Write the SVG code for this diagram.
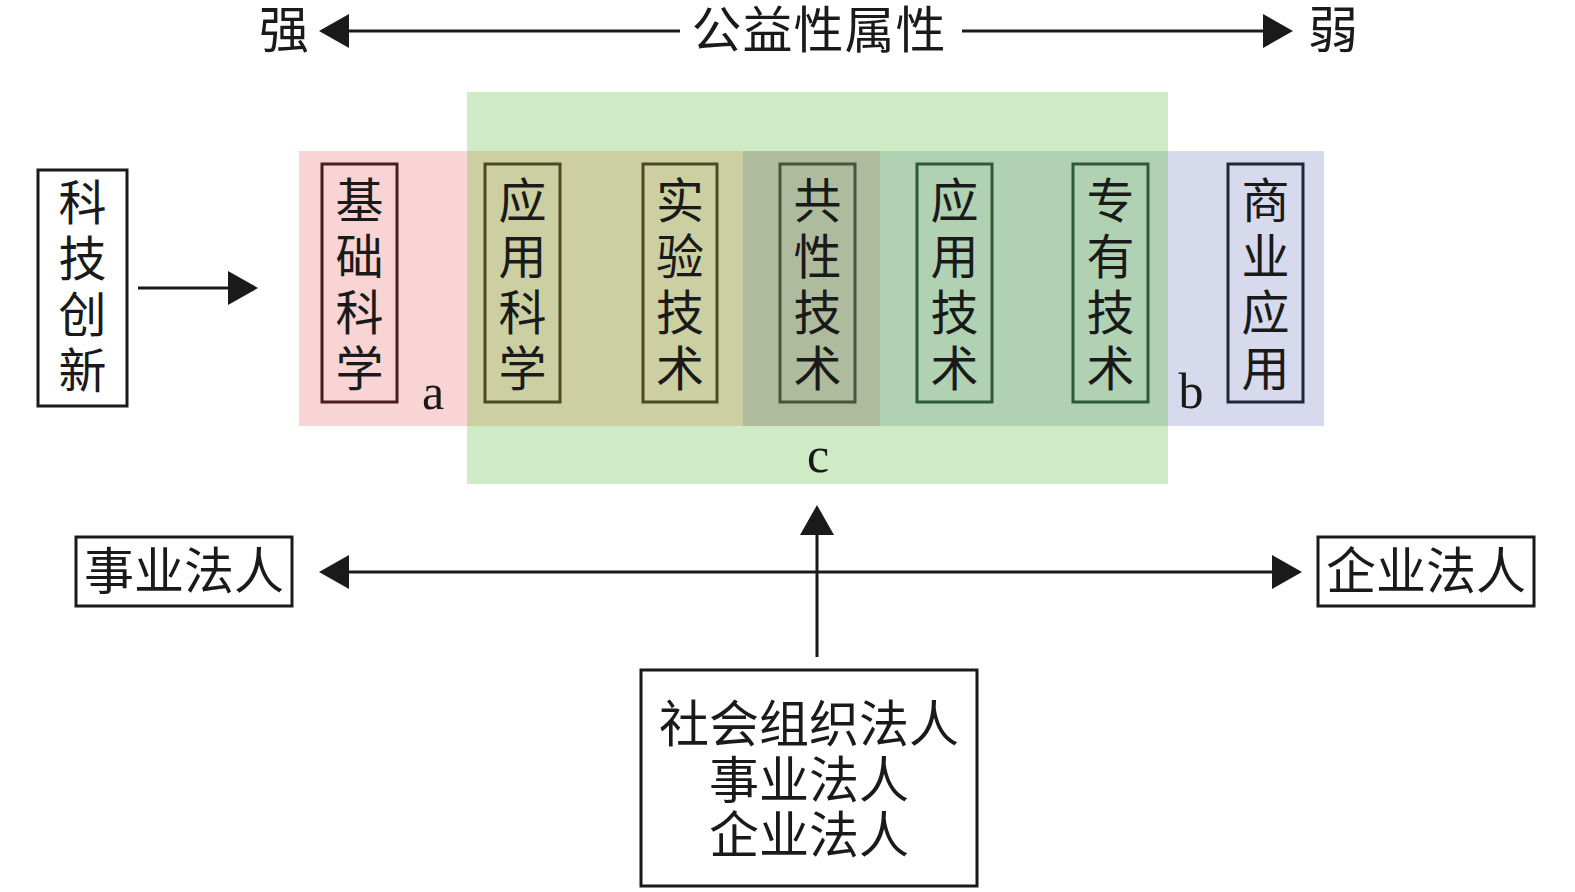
<svg xmlns="http://www.w3.org/2000/svg" width="1575" height="892" viewBox="0 0 1575 892">
<style>
.cjk{font-family:"Noto Sans CJK SC","Noto Sans CJK TC",sans-serif;font-size:48px;fill:#1a1a1a;text-anchor:middle}
.big{font-size:50px}
.lat{font-family:"Liberation Serif",serif;font-size:50px;fill:#1a1a1a;text-anchor:middle}
.box{fill:none;stroke-width:3}
.blk{fill:#fff;stroke:#1a1a1a;stroke-width:3}
.ln{stroke:#1a1a1a;stroke-width:3;fill:none}
</style>
<defs>
<marker id="ah" markerUnits="userSpaceOnUse" markerWidth="31" markerHeight="34" refX="0" refY="17" orient="auto-start-reverse">
<path d="M0,0 L30,17 L0,34 z" fill="#1a1a1a"/>
</marker>
</defs>
<g id="regions">
<rect x="467" y="92" width="701" height="392" fill="#ceebc5"/>
<rect x="299" y="151" width="168" height="275" fill="#f9d4d4"/>
<rect x="467" y="151" width="276" height="275" fill="#cccfa2"/>
<rect x="743" y="151" width="137" height="275" fill="#aebb9d"/>
<rect x="880" y="151" width="288" height="275" fill="#b0d2b3"/>
<rect x="1168" y="151" width="156" height="275" fill="#d6daec"/>
<text class="lat" x="433" y="409">a</text>
<text class="lat" x="1191" y="408">b</text>
<text class="lat" x="818" y="472">c</text>
</g>
<g id="title">
<text class="cjk big" x="284" y="48">强</text>
<text class="cjk big" x="819" y="48" letter-spacing="1">公益性属性</text>
<text class="cjk big" x="1333" y="48">弱</text>
</g>
<g id="node-kjcx">
<rect class="blk" x="38" y="170" width="89" height="236"/>
<text class="cjk" x="82.5" y="220">科</text>
<text class="cjk" x="82.5" y="276">技</text>
<text class="cjk" x="82.5" y="332">创</text>
<text class="cjk" x="82.5" y="388">新</text>
</g>
<g id="node-jckx">
<rect class="box" x="322" y="164" width="75" height="238" stroke="#4a1c1e"/>
<text class="cjk" x="359.5" y="218">基</text><text class="cjk" x="359.5" y="274">础</text><text class="cjk" x="359.5" y="330">科</text><text class="cjk" x="359.5" y="386">学</text>
</g>
<g id="node-yykx">
<rect class="box" x="485" y="164" width="75" height="238" stroke="#4a4a22"/>
<text class="cjk" x="522.5" y="218">应</text><text class="cjk" x="522.5" y="274">用</text><text class="cjk" x="522.5" y="330">科</text><text class="cjk" x="522.5" y="386">学</text>
</g>
<g id="node-syjs">
<rect class="box" x="643" y="164" width="74" height="238" stroke="#4a4a22"/>
<text class="cjk" x="680" y="218">实</text><text class="cjk" x="680" y="274">验</text><text class="cjk" x="680" y="330">技</text><text class="cjk" x="680" y="386">术</text>
</g>
<g id="node-gxjs">
<rect class="box" x="780" y="164" width="75" height="238" stroke="#45573a"/>
<text class="cjk" x="817.5" y="218">共</text><text class="cjk" x="817.5" y="274">性</text><text class="cjk" x="817.5" y="330">技</text><text class="cjk" x="817.5" y="386">术</text>
</g>
<g id="node-yyjs">
<rect class="box" x="917" y="164" width="75" height="238" stroke="#2f5a36"/>
<text class="cjk" x="954.5" y="218">应</text><text class="cjk" x="954.5" y="274">用</text><text class="cjk" x="954.5" y="330">技</text><text class="cjk" x="954.5" y="386">术</text>
</g>
<g id="node-zyjs">
<rect class="box" x="1073" y="164" width="75" height="238" stroke="#2f5a36"/>
<text class="cjk" x="1110.5" y="218">专</text><text class="cjk" x="1110.5" y="274">有</text><text class="cjk" x="1110.5" y="330">技</text><text class="cjk" x="1110.5" y="386">术</text>
</g>
<g id="node-syyy">
<rect class="box" x="1228" y="164" width="75" height="238" stroke="#23263a"/>
<text class="cjk" x="1265.5" y="218">商</text><text class="cjk" x="1265.5" y="274">业</text><text class="cjk" x="1265.5" y="330">应</text><text class="cjk" x="1265.5" y="386">用</text>
</g>
<g id="node-sy">
<rect class="blk" x="76" y="537" width="216" height="69"/>
<text class="cjk big" x="184" y="589">事业法人</text>
</g>
<g id="node-qy">
<rect class="blk" x="1318" y="537" width="216" height="69"/>
<text class="cjk big" x="1426" y="589">企业法人</text>
</g>
<g id="node-bottom">
<rect class="blk" x="641" y="670" width="336" height="216"/>
<text class="cjk big" x="809" y="742">社会组织法人</text>
<text class="cjk big" x="809" y="798">事业法人</text>
<text class="cjk big" x="809" y="853">企业法人</text>
</g>
<g id="connectors">
<line class="ln" x1="349" y1="31" x2="680" y2="31" marker-start="url(#ah)"/>
<line class="ln" x1="962" y1="31" x2="1263" y2="31" marker-end="url(#ah)"/>
<line class="ln" x1="138" y1="288" x2="228" y2="288" marker-end="url(#ah)"/>
<line class="ln" x1="349" y1="572" x2="1272" y2="572" marker-start="url(#ah)" marker-end="url(#ah)"/>
<line class="ln" x1="817" y1="657" x2="817" y2="535" marker-end="url(#ah)"/>
</g>
</svg>
